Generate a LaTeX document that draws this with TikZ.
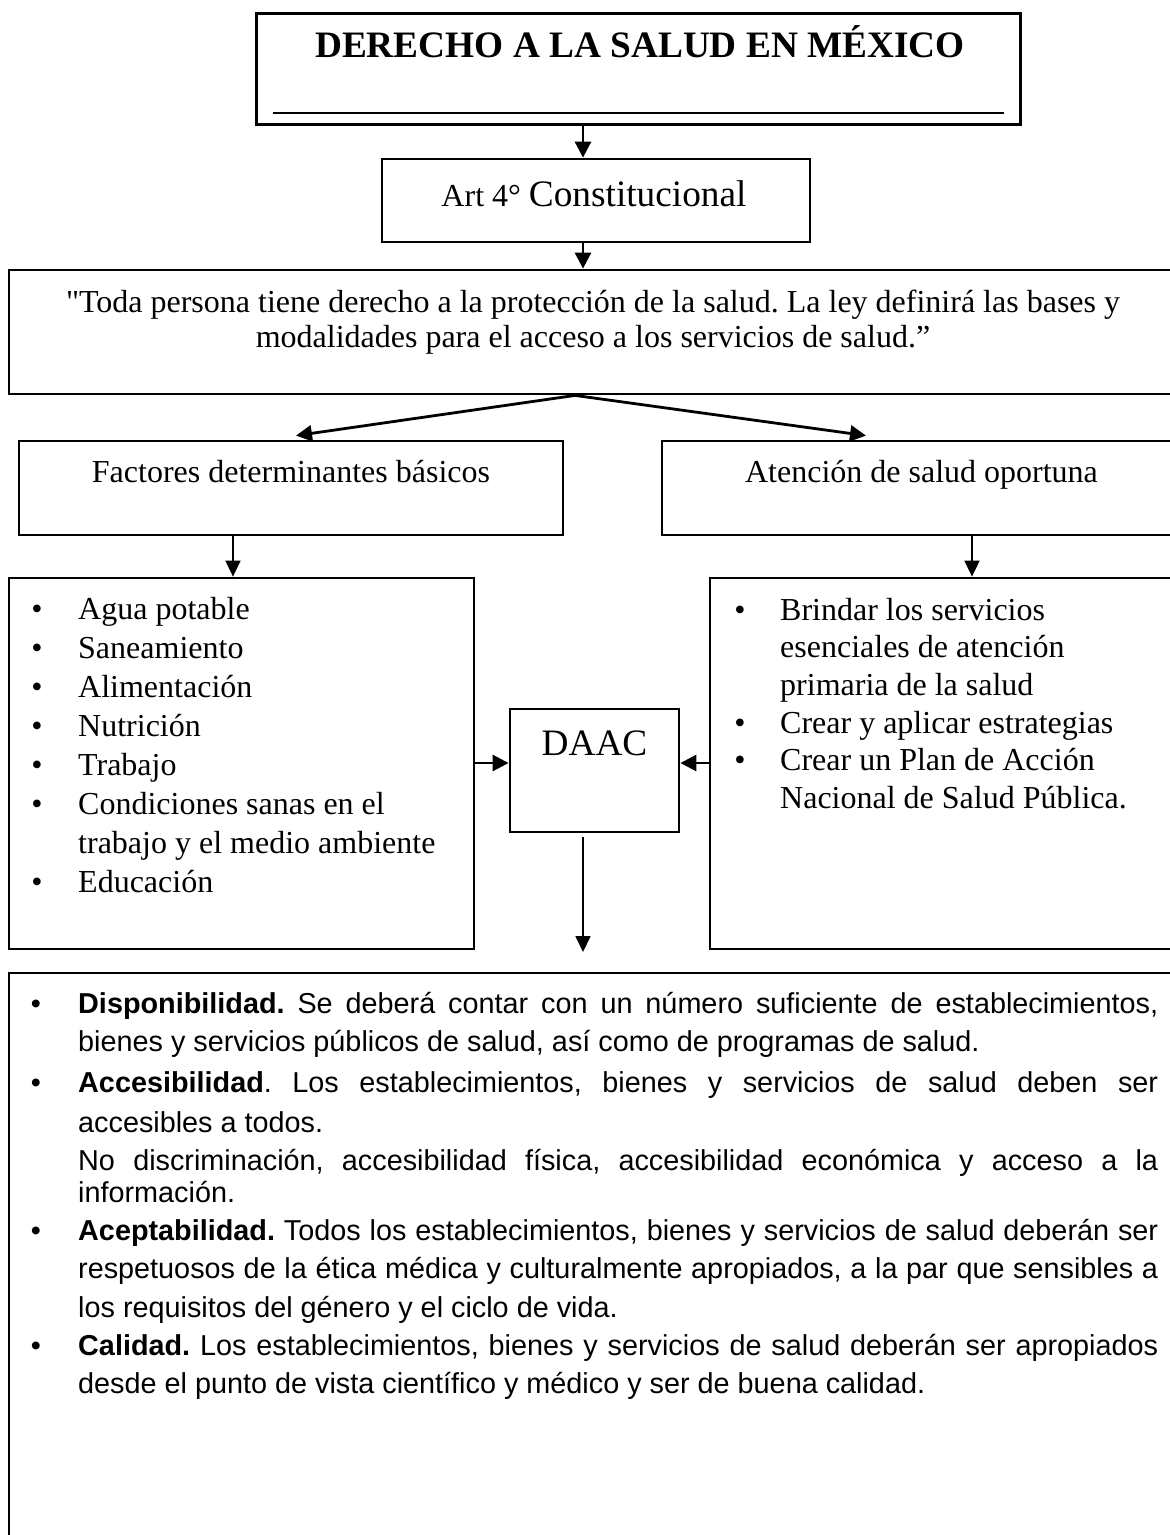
\documentclass[tikz,border=0pt]{standalone}
\usepackage{fontspec}
\setmainfont{Liberation Serif}
\setsansfont{Liberation Sans}
\newfontfamily\rawserif{Liberation Serif}[Ligatures=TeXOff]
\usetikzlibrary{arrows.meta}
\frenchspacing

% text sizes (page units are 1pt = 1px)
\newcommand\sizeA{\fontsize{32}{38.75}\selectfont}   % body serif
\newcommand\sizeR{\fontsize{32}{37.7}\selectfont}    % body serif, right list
\newcommand\sizeB{\fontsize{37.3}{44}\selectfont}    % larger serif
\newcommand\sizeC{\sffamily\fontsize{28.8}{38.5}\selectfont} % sans list
\newcommand\justset{\parindent=0pt \tolerance=9999 \hyphenpenalty=10000
  \exhyphenpenalty=10000 \frenchspacing
  \spaceskip=0.278em plus 0.8em minus 0.09em\relax}

\tikzset{
  box/.style={draw, line width=2.8pt, inner sep=0pt},
  arr/.style={-{Triangle[length=16pt,width=16pt]}, line width=2.8pt},
  thinarr/.style={-{Triangle[length=16pt,width=15pt]}, line width=1.7pt},
  txt/.style={inner sep=0pt, anchor=base},
  itm/.style={inner sep=0pt, anchor=base west, font=\sizeA},
  bul/.style={inner sep=0pt, anchor=base, font=\sizeA},
  ritm/.style={inner sep=0pt, anchor=base west, font=\sizeR},
  sitm/.style={inner sep=0pt, anchor=base west, font=\sizeC},
  sbul/.style={inner sep=0pt, anchor=base, font=\sizeC},
}

\begin{document}
\begin{tikzpicture}[x=1pt,y=-1pt]
\useasboundingbox (0,0) rectangle (1170,1535);
\clip (0,0) rectangle (1170,1535);

% ---------- boxes ----------
\node[box, line width=3pt, minimum width=764pt, minimum height=111pt] (title) at (638,68.5) {};
\draw[line width=1.6pt] (273,113) -- (1004,113);
\node[box, minimum width=428pt, minimum height=83pt] (art) at (596,200.5) {};
\node[box, minimum width=1168pt, minimum height=124pt] (quote) at (593,332) {};
\node[box, minimum width=544pt, minimum height=94pt] (fact) at (291,488) {};
\node[box, minimum width=519pt, minimum height=94pt] (aten) at (921.5,488) {};
\node[box, minimum width=465pt, minimum height=371pt] (llist) at (241.5,763.5) {};
\node[box, minimum width=470pt, minimum height=371pt] (rlist) at (945,763.5) {};
\node[box, minimum width=169pt, minimum height=123pt] (daac) at (594.5,770.5) {};
\node[box, minimum width=1172pt, minimum height=600pt] (bottom) at (595,1273) {};

% ---------- texts ----------
\node[txt] (ttitle) at (640,57) {\sizeB\bfseries DERECHO A LA SALUD EN MÉXICO};
\node[txt] (tart) at (594,206) {{\sizeA Art 4° }{\sizeB Constitucional}};
\node[txt, font=\fontsize{32}{35}\selectfont] (tquote) at (593,312)
  {\parbox[t]{1160pt}{\centering {\rawserif"}Toda persona tiene derecho a la protección de la salud. La ley definirá las bases y\\
   modalidades para el acceso a los servicios de salud.”}};
\node[txt, font=\sizeA] (tfact) at (291,482) {Factores determinantes básicos};
\node[txt, font=\sizeA] (taten) at (921.5,482) {Atención de salud oportuna};
\node[txt, font=\sizeB] (tdaac) at (594.5,755) {DAAC};

% left list
\node[bul] (lb1) at (37,619) {•};      \node[itm] (li1) at (78,619) {Agua potable};
\node[bul] (lb2) at (37,658) {•};      \node[itm] (li2) at (78,658) {Saneamiento};
\node[bul] (lb3) at (37,697) {•};      \node[itm] (li3) at (78,697) {Alimentación};
\node[bul] (lb4) at (37,736) {•};      \node[itm] (li4) at (78,736) {Nutrición};
\node[bul] (lb5) at (37,775) {•};      \node[itm] (li5) at (78,775) {Trabajo};
\node[bul] (lb6) at (37,814) {•};      \node[itm] (li6) at (78,814)
  {\parbox[t]{390pt}{\baselineskip=39pt Condiciones sanas en el\\trabajo y el medio ambiente}};
\node[bul] (lb7) at (37,892) {•};      \node[itm] (li7) at (78,892) {Educación};

% right list
\node[bul] (rb1) at (740,620) {•};     \node[ritm] (ri1) at (780,620)
  {\parbox[t]{385pt}{Brindar los servicios\\esenciales de atención\\primaria de la salud}};
\node[bul] (rb2) at (740,733.1) {•};   \node[ritm] (ri2) at (780,733.1) {Crear y aplicar estrategias};
\node[bul] (rb3) at (740,770.8) {•};   \node[ritm] (ri3) at (780,770.8)
  {\parbox[t]{385pt}{Crear un Plan de Acción\\Nacional de Salud Pública.}};

% bottom list
\node[sbul] (bb1) at (36,1013) {•};
\node[sitm] (bi1) at (78,1013) {\parbox[t]{1080pt}{\justset
  \textbf{Disponibilidad.} Se deberá contar con un número suficiente de establecimientos,\linebreak
  bienes y servicios públicos de salud, así como de programas de salud.}};
\node[sbul] (bb2) at (36,1092) {•};
\node[sitm] (bi2) at (78,1092) {\parbox[t]{1080pt}{\justset\baselineskip=40pt
  \textbf{Accesibilidad}. Los establecimientos, bienes y servicios de salud deben ser\linebreak
  accesibles a todos.}};
\node[sitm] (bi2b) at (78,1170) {\parbox[t]{1080pt}{\justset\baselineskip=32pt
  No discriminación, accesibilidad física, accesibilidad económica y acceso a la\linebreak
  información.}};
\node[sbul] (bb3) at (36,1240) {•};
\node[sitm] (bi3) at (78,1240) {\parbox[t]{1080pt}{\justset
  \textbf{Aceptabilidad.} Todos los establecimientos, bienes y servicios de salud deberán ser\linebreak
  respetuosos de la ética médica y culturalmente apropiados, a la par que sensibles a\linebreak
  los requisitos del género y el ciclo de vida.}};
\node[sbul] (bb4) at (36,1355) {•};
\node[sitm] (bi4) at (78,1355) {\parbox[t]{1080pt}{\justset
  \textbf{Calidad.} Los establecimientos, bienes y servicios de salud deberán ser apropiados\linebreak
  desde el punto de vista científico y médico y ser de buena calidad.}};

% ---------- connector columns ----------
\coordinate (spine) at (583,0);
\coordinate (qs) at (575,0);
\coordinate (fx) at (296,0);
\coordinate (ax) at (866,0);
\coordinate (lx) at (233,0);
\coordinate (rx) at (972,0);
\coordinate (dy) at (0,763);
\coordinate (dend) at (583,952);

% ---------- connectors ----------
\draw[arr] (title.south -| spine) -- (art.north -| spine);
\draw[arr] (art.south -| spine) -- (quote.north -| spine);
\draw[arr] (quote.south -| qs) -- ([yshift=4pt]fact.north -| fx);
\draw[arr] (quote.south -| qs) -- ([yshift=4pt]aten.north -| ax);
\draw[thinarr] (fact.south -| lx) -- (llist.north -| lx);
\draw[thinarr] (aten.south -| rx) -- (rlist.north -| rx);
\draw[arr] (llist.east |- dy) -- (daac.west |- dy);
\draw[arr] (rlist.west |- dy) -- (daac.east |- dy);
\draw[thinarr, shorten <=4pt] (daac.south -| spine) -- (dend);
\end{tikzpicture}
\end{document}
